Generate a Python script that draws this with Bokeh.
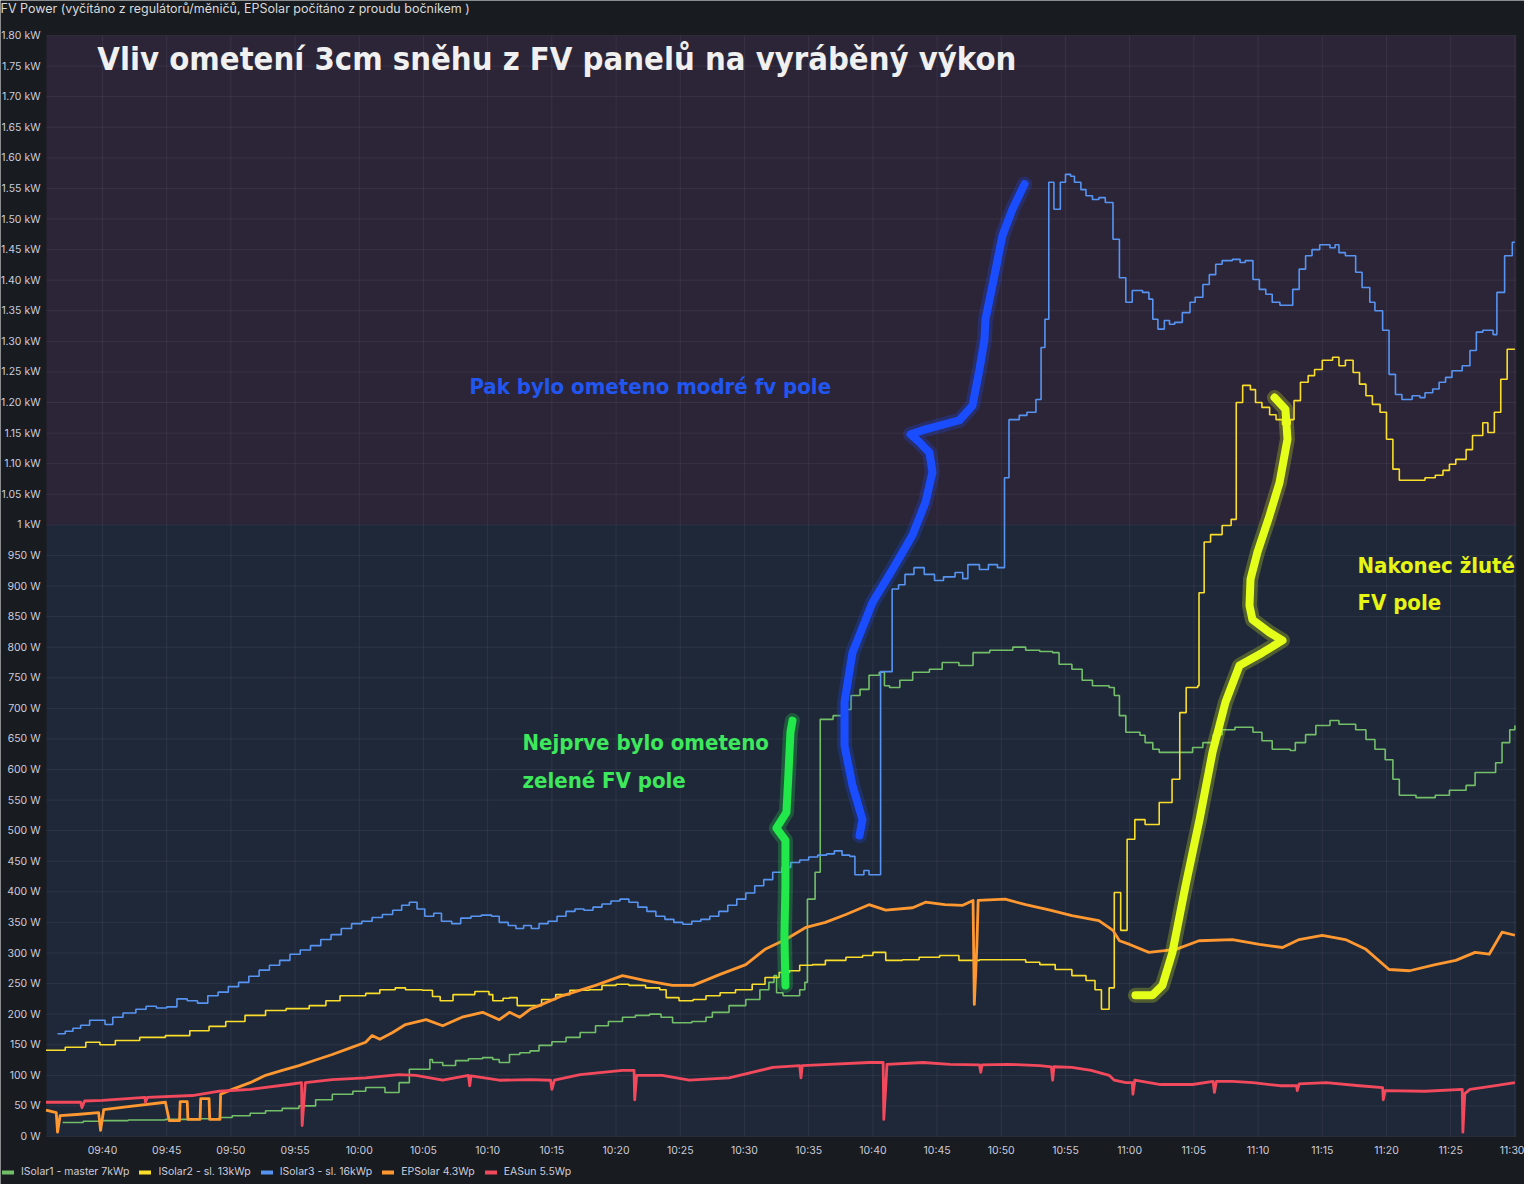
import numpy as np
from bokeh.plotting import figure
from bokeh.models import FixedTicker, BoxAnnotation, Label, Legend, LegendItem
from bokeh.embed import file_html
from bokeh.resources import INLINE

TITLE = "FV Power (vyčítáno z regulátorů/měničů, EPSolar počítáno z proudu bočníkem )"
HEADLINE = "Vliv ometení 3cm sněhu z FV panelů na vyráběný výkon"

# time = minutes after 09:00, value = W
ISOLAR1 = [(36.9,23),(38.5,25),(40.0,26),(42.0,27),(44.9,28),(47.5,29),(49.1,31),(50.1,34),(51.5,38),(52.7,42),
           (54.0,46),(55.3,50),(56.6,60),(57.9,69),(59.5,74),(60.5,80),(62.0,72),(63.1,88),(63.9,110),(65.5,126),
           (65.7,121),(66.5,116),(67.5,124),(68.5,127),(69.6,129),(70.4,126),(70.9,121),(71.7,134),(72.5,137),(73.3,140),
           (74.0,149),(75.0,155),(76.1,162),(77.2,170),(78.4,181),(79.4,188),(80.5,195),(81.5,198),(82.6,200),(83.5,195),
           (84.4,186),(85.9,188),(87.0,195),(87.5,203),(88.8,214),(90.1,224),(91.2,240),(91.9,252),(92.3,263),(92.5,235),
           (93.0,230),(94.3,240),(94.7,252),(94.9,388),(95.5,432),(95.9,682),(96.9,688),(97.6,698),(98.3,721),(99.0,731),
           (99.7,754),(100.5,759),(100.9,737),(101.3,734),(102.1,746),(103.1,759),(104.4,764),(105.4,775),(106.7,770),(107.8,791),
           (109.1,795),(110.9,800),(111.9,795),(113.0,793),(114.0,791),(114.5,772),(115.5,764),(116.3,746),(117.1,737),(118.4,734),
           (118.8,721),(119.2,688),(119.7,661),(120.8,656),(121.2,644),(121.8,633),(122.3,628),(124.1,628),(124.9,636),(125.7,644),
           (126.5,657),(127.2,665),(128.2,669),(129.0,669),(129.6,661),(130.3,647),(131.1,633),(132.5,631),(132.9,644),(133.7,657),
           (134.5,672),(135.6,680),(136.3,674),(137.6,665),(138.4,649),(139.1,633),(139.9,616),(140.5,584),(141.0,558),(142.3,554),
           (143.8,558),(144.9,566),(146.2,574),(146.9,595),(148.0,595),(148.5,611),(149.0,644),(149.6,665),(150.0,672)]

ISOLAR2 = [(35.6,141),(37.1,146),(38.7,154),(39.8,150),(41.0,157),(42.9,162),(44.9,165),(46.8,173),(48.3,180),(49.6,188),
           (51.1,198),(52.7,206),(54.3,209),(56.1,214),(57.4,222),(58.5,230),(60.5,234),(61.6,240),(62.8,243),(63.6,240),
           (64.9,239),(65.7,229),(66.3,222),(67.3,232),(69.0,237),(70.1,232),(70.4,222),(71.2,226),(71.7,227),(72.3,214),
           (74.2,224),(75.3,232),(76.4,239),(77.9,240),(78.9,247),(80.0,249),(81.0,247),(82.3,243),(83.4,240),(83.9,227),
           (84.9,222),(86.0,224),(87.0,230),(88.1,235),(89.3,240),(90.6,249),(91.6,260),(92.7,268),(93.5,271),(94.3,280),
           (95.3,281),(96.3,288),(97.9,293),(99.2,296),(100.0,301),(101.0,288),(102.3,289),(103.6,293),(105.2,296),(106.7,288),
           (108.3,289),(110.3,289),(111.9,285),(113.0,281),(114.2,273),(115.5,263),(116.6,255),(117.3,240),(117.8,208),(118.4,243),
           (118.8,399),(119.3,337),(119.8,486),(120.4,518),(121.2,510),(122.3,546),(123.3,584),(123.9,693),(124.4,734),(125.3,737),
           (125.4,889),(125.8,972),(126.3,984),(127.2,999),(127.9,1009),(128.3,1200),(128.8,1228),(129.4,1221),(129.8,1200),(130.3,1192),
           (130.9,1180),(131.4,1172),(131.9,1164),(132.5,1172),(132.8,1203),(133.3,1233),(133.9,1244),(134.4,1254),(135.0,1269),(135.8,1274),
           (136.3,1260),(136.8,1269),(137.4,1249),(137.9,1230),(138.4,1211),(138.9,1197),(139.5,1184),(140.0,1140),(140.5,1091),(141.0,1073),
           (142.3,1073),(143.0,1077),(143.8,1081),(144.4,1089),(144.9,1099),(145.4,1107),(146.2,1123),(146.7,1146),(147.5,1167),(147.9,1151),
           (148.4,1184),(148.9,1238),(149.4,1287),(150.0,1287)]

ISOLAR3 = [(36.5,168),(37.1,172),(37.7,177),(38.3,182),(39.0,190),(40.2,183),(40.8,195),(41.6,202),(42.6,208),(43.4,213),
           (44.2,210),(45.0,212),(45.8,225),(46.6,222),(47.4,218),(48.2,230),(49.0,236),(49.8,245),(50.6,252),(51.4,262),
           (52.2,272),(53.0,280),(53.8,288),(54.6,298),(55.4,305),(56.2,312),(57.0,322),(57.8,330),(58.6,340),(59.4,348),
           (60.2,352),(61.0,358),(61.8,363),(62.6,370),(63.3,378),(63.9,383),(64.5,372),(65.1,360),(65.8,365),(66.4,352),
           (67.2,348),(67.9,357),(68.7,360),(69.5,362),(70.3,360),(70.9,350),(71.6,345),(72.2,340),(72.8,345),(73.4,340),
           (74.0,348),(74.7,352),(75.4,360),(76.1,368),(76.8,372),(77.5,370),(78.2,375),(78.9,380),(79.6,385),(80.3,388),
           (81.0,383),(81.7,375),(82.4,368),(83.1,360),(83.8,355),(84.5,350),(85.2,347),(85.9,352),(86.6,355),(87.3,360),
           (88.0,368),(88.7,378),(89.4,388),(90.1,398),(90.8,410),(91.5,420),(92.2,432),(92.9,440),(93.6,448),(94.3,452),
           (95.0,457),(95.7,460),(96.4,462),(97.0,467),(97.6,460),(98.2,458),(98.6,428),(99.3,435),(99.7,428),(100.6,760),
           (101.5,895),(102.0,902),(102.5,919),(103.2,930),(104.0,919),(104.8,909),(105.5,915),(106.4,922),(107.0,912),(107.4,935),
           (108.3,927),(109.0,935),(109.7,930),(110.25,1077),(110.6,1172),(111.4,1179),(112.0,1184),(112.7,1205),(113.1,1290),(113.4,1336),
           (113.7,1560),(114.1,1516),(114.6,1560),(115.0,1573),(115.4,1570),(115.7,1560),(116.2,1548),(116.6,1538),(117.1,1532),(117.6,1535),
           (118.1,1527),(118.7,1467),(119.2,1404),(119.7,1364),(120.2,1383),(121.0,1380),(121.5,1369),(121.8,1336),(122.2,1320),(122.7,1334),
           (123.1,1328),(123.5,1331),(124.1,1347),(124.7,1364),(125.1,1372),(125.7,1393),(126.2,1409),(126.7,1426),(127.2,1432),(128.0,1434),
           (128.6,1429),(129.0,1432),(129.6,1401),(130.1,1385),(130.6,1377),(131.1,1364),(131.7,1359),(132.7,1385),(133.2,1418),(133.7,1440),
           (134.2,1450),(134.8,1458),(135.6,1453),(136.0,1458),(136.3,1445),(136.8,1440),(137.6,1413),(138.1,1388),(138.7,1364),(139.1,1350),
           (139.7,1318),(140.2,1246),(140.7,1213),(141.2,1205),(142.0,1211),(142.6,1208),(143.0,1216),(143.6,1222),(144.1,1233),(144.6,1241),
           (145.1,1252),(145.9,1260),(146.5,1285),(147.0,1315),(147.5,1318),(148.3,1311),(148.6,1380),(149.2,1440),(149.8,1462),(150.0,1462)]

EPSOLAR = [(35.6,43),(36.4,39),(36.5,7),(36.7,34),(38.0,36),(39.7,39),(39.85,10),(40.1,44),(42.0,49),(44.9,56),
           (45.2,26),(46.0,26),(46.05,57),(46.6,57),(46.65,28),(47.6,28),(47.65,62),(48.3,62),(48.35,28),(49.15,28),
           (49.2,69),(50.1,77),(51.5,88),(52.7,100),(54.0,108),(55.3,116),(56.6,125),(57.9,134),(59.2,144),(60.5,154),
           (61.0,165),(61.6,159),(62.6,170),(63.6,183),(65.2,191),(66.5,181),(68.0,195),(69.6,203),(70.9,191),(71.7,203),
           (72.5,195),(73.3,208),(74.0,214),(75.8,230),(78.4,247),(80.5,263),(82.3,255),(84.4,247),(86.0,247),(88.1,265),
           (90.1,281),(91.6,306),(93.2,322),(94.8,342),(96.3,350),(97.9,363),(99.7,379),(101.0,370),(103.1,374),(104.1,383),
           (105.6,379),(107.0,378),(107.8,386),(107.9,216),(108.1,312),(108.2,386),(110.3,388),(111.9,379),(113.8,370),(115.5,361),
           (117.6,353),(118.7,337),(119.2,320),(120.0,314),(121.5,301),(123.6,306),(125.4,320),(128.0,322),(130.1,314),(131.9,309),
           (133.2,322),(135.0,329),(136.8,322),(138.4,306),(140.2,273),(141.8,271),(143.8,281),(145.4,288),(146.9,301),(148.0,298),
           (149.0,334),(150.0,329)]

EASUN = [(35.6,56),(38.3,56),(38.4,47),(38.6,58),(40.0,59),(43.3,64),(43.35,56),(43.5,64),(47.0,67),(49.1,74),
         (51.5,77),(54.5,85),(55.5,88),(55.55,18),(55.7,60),(55.8,88),(57.9,93),(60.5,96),(63.1,101),(64.4,100),
         (66.5,92),(68.5,100),(68.6,83),(68.7,99),(70.9,92),(73.3,93),(74.9,92),(75.0,77),(75.2,92),(77.2,101),
         (80.5,108),(81.4,108),(81.45,60),(81.6,100),(83.6,100),(85.7,92),(88.8,96),(92.2,113),(94.3,116),(94.4,96),
         (94.5,116),(96.6,118),(99.7,121),(100.8,121),(100.85,28),(101.0,80),(101.1,118),(103.9,121),(106.0,118),(108.3,117),
         (108.4,105),(108.5,117),(110.5,118),(113.0,116),(113.9,114),(114.0,92),(114.1,114),(115.5,113),(117.0,108),(118.4,100),
         (118.8,92),(119.7,88),(120.2,88),(120.25,69),(120.4,92),(122.4,85),(124.9,85),(126.5,90),(126.6,72),(126.75,90),
         (128.0,90),(129.6,88),(131.7,83),(133.0,83),(133.05,75),(133.2,86),(135.3,88),(137.9,83),(139.7,80),(139.75,60),
         (139.9,75),(143.0,74),(145.9,77),(145.95,7),(146.1,70),(146.5,77),(148.5,83),(150.0,88)]

# hand-drawn highlighter strokes (time, W)
STROKE_GREEN = [(93.19,247),(93.11,329),(93.19,410),(93.19,484),(92.49,504),(93.27,530),(93.43,595),(93.58,661),(93.74,680)]
STROKE_BLUE = [(98.96,492),(99.19,518),(98.41,574),(97.79,639),(97.79,710),(98.41,791),(99.97,873),(101.53,927),(103.08,983),
               (104.1,1037),(104.64,1086),(104.41,1118),(103.63,1135),(102.93,1148),(104.1,1156),(106.74,1171),(107.76,1195),
               (108.3,1254),(108.69,1303),(108.77,1336),(109.31,1391),(110.09,1473),(110.87,1516),(111.81,1557)]
STROKE_YELLOW = [(120.45,231),(121.78,231),(122.55,247),(123.33,301),(124.35,410),(125.44,518),(126.45,628),(127.46,710),
                 (128.55,770),(130.34,791),(131.9,811),(130.89,824),(129.56,845),(129.33,868),(129.41,911),(129.95,955),
                 (130.89,1015),(131.67,1069),(132.29,1140),(132.13,1189),(131.28,1208)]

SERIES_NAMES = ["ISolar1 - master 7kWp", "ISolar2 - sl. 13kWp", "ISolar3 - sl. 16kWp", "EPSolar 4.3Wp", "EASun 5.5Wp"]
SERIES_COLORS = ["#73bf69", "#fade2a", "#5794f2", "#ff9830", "#f2495c"]

X_TICK_LABELS = ["09:40","09:45","09:50","09:55","10:00","10:05","10:10","10:15","10:20","10:25","10:30","10:35",
                 "10:40","10:45","10:50","10:55","11:00","11:05","11:10","11:15","11:20","11:25","11:30"]
Y_TICKS = list(range(0, 1801, 50))
T_START, T_END = 35.64, 150.12   # visible time window of the panel
Y_MAX = 1800
SPLIT = 1000                     # colour band threshold (1 kW)


def ylabel(v):
    if v < 1000:
        return f"{v} W"
    if v == 1000:
        return "1 kW"
    return f"{v/1000:.2f} kW"


def minutes(lbl):
    h, m = lbl.split(":")
    return int(h) * 60 + int(m) - 540


X_TICKS = [minutes(s) for s in X_TICK_LABELS]

TEXT_COL = "#ccccdc"
FONT = "Inter"
COND = "DejaVu Sans Condensed, Liberation Sans Narrow, Roboto Condensed, Roboto"
PANEL = "#181b1f"

# frame covers the whole canvas; the data window sits inside it like in the Grafana panel
W, H = 1524, 1184
PX_PER_MIN = 12.84
PX_PER_W = 1101 / 1800
x0 = T_START - 46 / PX_PER_MIN
x1 = x0 + W / PX_PER_MIN
ytop = Y_MAX + 35 / PX_PER_W
ybot = ytop - H / PX_PER_W

p = figure(width=W, height=H, x_range=(x0, x1), y_range=(ybot, ytop),
           output_backend="svg", toolbar_location=None,
           min_border=0, min_border_left=0, min_border_right=0, min_border_top=0, min_border_bottom=0)
p.border_fill_color = PANEL
p.background_fill_color = PANEL
p.outline_line_color = None
p.xgrid.visible = False
p.ygrid.visible = False

p.add_layout(BoxAnnotation(left=T_START, right=T_END, bottom=0, top=SPLIT, fill_color="#1f2839",
                           fill_alpha=1.0, line_color=None, level="image"))
p.add_layout(BoxAnnotation(left=T_START, right=T_END, bottom=SPLIT, top=Y_MAX, fill_color="#2c2538",
                           fill_alpha=1.0, line_color=None, level="image"))

# grid lines restricted to the data window
p.segment(x0=X_TICKS, y0=[0] * len(X_TICKS), x1=X_TICKS, y1=[Y_MAX] * len(X_TICKS),
          line_color=TEXT_COL, line_alpha=0.08, line_width=1)
p.segment(x0=[T_START] * len(Y_TICKS), y0=Y_TICKS, x1=[T_END] * len(Y_TICKS), y1=Y_TICKS,
          line_color=TEXT_COL, line_alpha=0.08, line_width=1)

for ax in (p.xaxis[0], p.yaxis[0]):
    ax.axis_line_color = None
    ax.major_tick_line_color = None
    ax.minor_tick_line_color = None
    ax.major_label_text_color = TEXT_COL
    ax.major_label_text_font = FONT
    ax.major_label_text_font_size = "10.5px"

p.yaxis.fixed_location = T_START
p.yaxis.ticker = FixedTicker(ticks=Y_TICKS)
p.yaxis.major_label_overrides = {v: ylabel(v) for v in Y_TICKS}
p.yaxis.major_label_standoff = 0
p.xaxis.fixed_location = 0
p.xaxis.ticker = FixedTicker(ticks=X_TICKS)
p.xaxis.major_label_overrides = {t: s for t, s in zip(X_TICKS, X_TICK_LABELS)}
p.xaxis.major_label_standoff = 1

data = [ISOLAR1, ISOLAR2, ISOLAR3, EPSOLAR, EASUN]
for i, (series, col) in enumerate(zip(data, SERIES_COLORS)):
    t, w = zip(*series)
    if i < 3:
        p.step(list(t), list(w), mode="after", line_color=col, line_width=1.6)
    else:
        p.line(list(t), list(w), line_color=col, line_width=2.8, line_join="round")

for stroke, col in [(STROKE_GREEN, "#22e84c"), (STROKE_BLUE, "#1a4dff"), (STROKE_YELLOW, "#e4ff1a")]:
    t, w = zip(*stroke)
    p.line(list(t), list(w), line_color=col, line_width=15, line_alpha=0.25, line_cap="round", line_join="round")
    p.line(list(t), list(w), line_color=col, line_width=8, line_cap="round", line_join="round")

# legend swatches (thick bars like Grafana); their own data lies outside the view
items = []
for name, col in zip(SERIES_NAMES, SERIES_COLORS):
    r = p.line([x0 - 10, x0 - 9], [0, 0], line_color=col, line_width=4, line_cap="round")
    items.append(LegendItem(label=name, renderers=[r]))
legend = Legend(items=items, orientation="horizontal", location=(2, 6),
                label_text_font=FONT, label_text_font_size="10.5px", label_text_color=TEXT_COL,
                glyph_width=12, glyph_height=12, label_standoff=7, spacing=10, padding=0, margin=0,
                label_height=12, background_fill_alpha=0, border_line_color=None)
p.add_layout(legend)

p.add_layout(Label(x=x0, y=ytop - 8 / PX_PER_W, text=TITLE, text_color="#d8d9da", text_font=FONT,
                   text_font_size="12.5px", text_baseline="middle", text_align="left"))

labels = [
    (39.6, 1761, HEADLINE, "#f0f0f0", "32.5px"),
    (68.58, 1226, "Pak bylo ometeno modré fv pole", "#2156f0", "22px"),
    (72.71, 644, "Nejprve bylo ometeno", "#3ee85c", "22px"),
    (72.71, 582, "zelené FV pole", "#3ee85c", "22px"),
    (137.74, 934, "Nakonec žluté", "#e6f514", "22px"),
    (137.74, 873, "FV pole", "#e6f514", "22px"),
]
for x, y, txt, col, size in labels:
    p.add_layout(Label(x=x, y=y, text=txt, text_color=col, text_font=COND, text_font_style="bold",
                       text_font_size=size, text_baseline="middle", text_align="left"))

open("out.html", "w").write(file_html(p, INLINE))
